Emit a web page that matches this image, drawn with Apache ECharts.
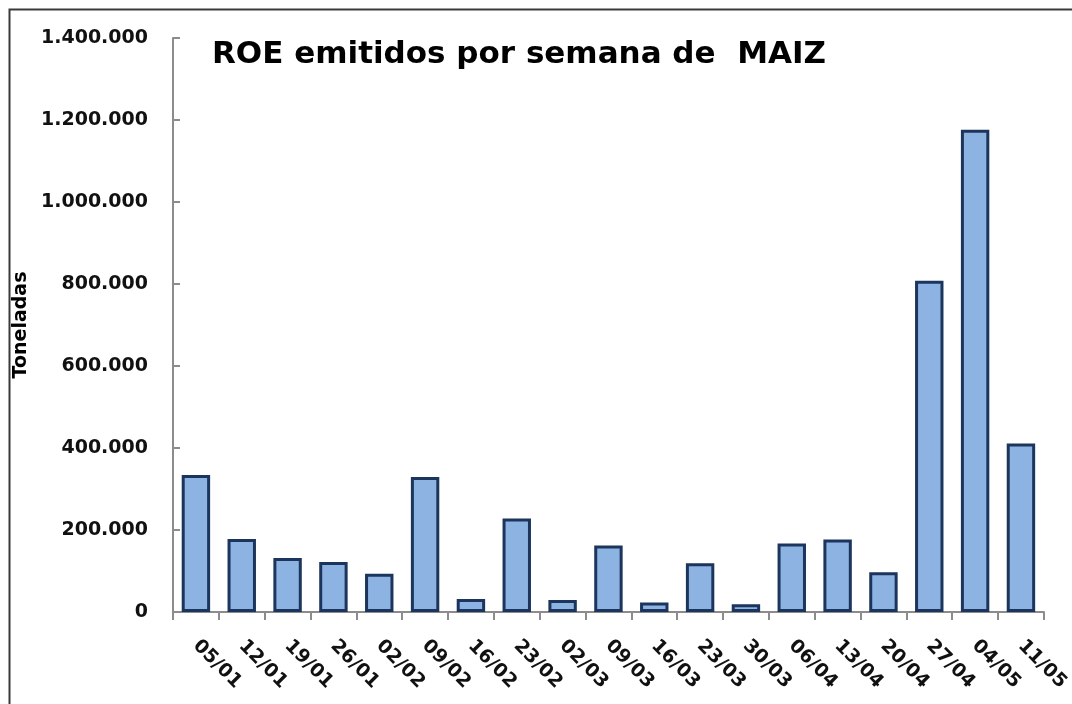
<!DOCTYPE html>
<html>
<head>
<meta charset="utf-8">
<script src="https://cdn.jsdelivr.net/npm/echarts@6/dist/echarts.min.js"></script>
<style>html,body{margin:0;padding:0;background:#fff}#c{width:1072px;height:704px}</style>
</head>
<body>
<div id="c"></div>
<script>
const categories = ['05/01','12/01','19/01','26/01','02/02','09/02','16/02','23/02','02/03','09/03','16/03','23/03','30/03','06/04','13/04','20/04','27/04','04/05','11/05'];
const toneladas = [334000,178000,132000,122000,93000,329000,32000,228000,29000,162000,23000,119000,19000,167000,177000,97000,808000,1176000,411000];
const yTicks = { min: 0, max: 1400000, interval: 200000 };
const titleText = 'ROE emitidos por semana de  MAIZ';
const yName = 'Toneladas';

function fmt(v){ return String(v).replace(/\B(?=(\d{3})+(?!\d))/g, '.'); }

const FONT = 'DejaVu Sans';
const chart = echarts.init(document.getElementById('c'));
chart.setOption({
  animation: false,
  backgroundColor: '#fff',
  graphic: [{
    type: 'rect', left: 7, top: 7, shape: { width: 1100, height: 750 },
    style: { fill: 'none', stroke: '#3a3a3a', lineWidth: 2 }, silent: true, z: 100
  }],
  title: {
    text: titleText, left: 212, top: 39, padding: 0,
    textStyle: { fontFamily: FONT, fontWeight: 'bold', fontSize: 31, color: '#000' }
  },
  grid: { left: 173, right: 25, top: 38, bottom: 92, containLabel: false },
  xAxis: {
    type: 'category', data: categories,
    axisLine: { lineStyle: { color: '#8c8c8c', width: 2 } },
    axisTick: { show: true, alignWithLabel: false, length: 8, lineStyle: { color: '#8c8c8c', width: 2 } },
    axisLabel: { rotate: -45, interval: 0, margin: 31, fontFamily: FONT, fontWeight: 'bold', fontSize: 19, color: '#111' }
  },
  yAxis: {
    type: 'value', min: yTicks.min, max: yTicks.max, interval: yTicks.interval,
    name: yName, nameLocation: 'middle', nameGap: 131, nameRotate: 90,
    nameTextStyle: { fontFamily: FONT, fontWeight: 'bold', fontSize: 19, color: '#000' },
    axisLine: { show: true, lineStyle: { color: '#8c8c8c', width: 2 } },
    axisTick: { show: true, inside: true, length: 7, lineStyle: { color: '#8c8c8c', width: 2 } },
    splitLine: { show: false },
    axisLabel: { formatter: fmt, margin: 25, fontFamily: FONT, fontWeight: 'bold', fontSize: 19, color: '#111' }
  },
  series: [{
    type: 'bar', data: toneladas, barCategoryGap: '38%',
    itemStyle: { color: '#8db3e2', borderColor: '#1c355c', borderWidth: 3 }
  }]
});
</script>
</body>
</html>
